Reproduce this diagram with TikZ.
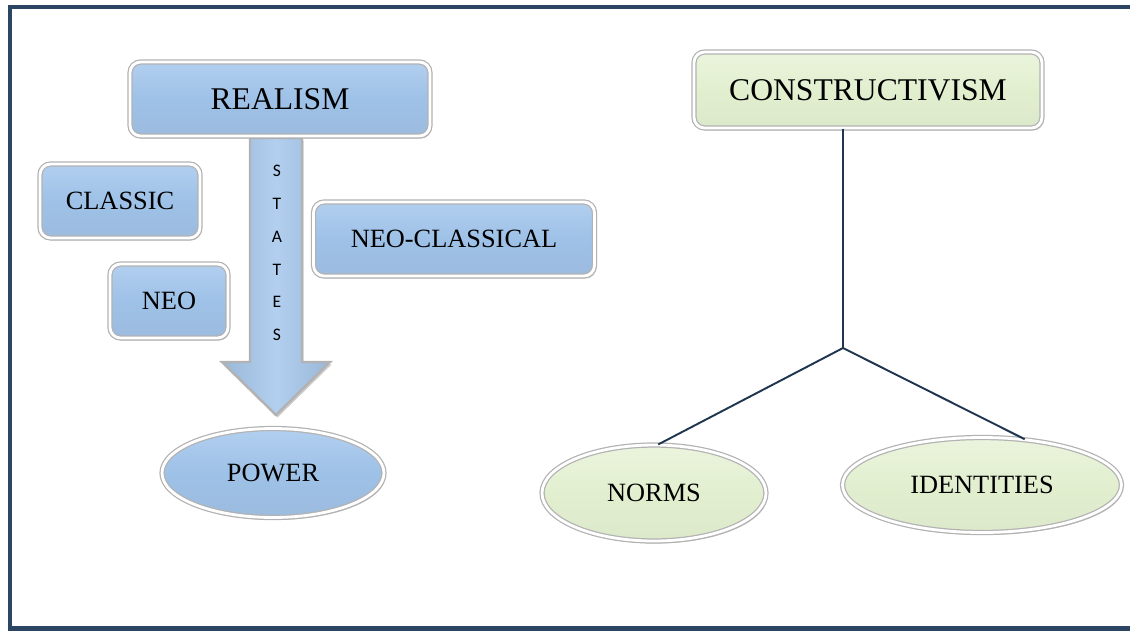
\documentclass[tikz,border=0pt]{standalone}
\usepackage{fontspec}
\setmainfont{Liberation Serif}
\newfontfamily\statesfont{Carlito}
\usetikzlibrary{calc,shapes.geometric,shadows}
\definecolor{FrameNavy}{HTML}{2C4563}
\definecolor{LinkNavy}{HTML}{1F3550}
\definecolor{RealBlue}{HTML}{9EC1E7}
\definecolor{RealBlueLight}{HTML}{B2CFEF}
\definecolor{ConsGreen}{HTML}{E2EFCF}
\definecolor{ConsGreenLight}{HTML}{EBF4DD}
\tikzset{
  bevel/.style={
    draw=gray!60,
    line width=0.7pt,
    double=white,
    double distance=1.6pt,
    drop shadow={shadow xshift=0.9pt,shadow yshift=-1.4pt,opacity=0.5}
  },
  realbox/.style={
    bevel,
    rectangle,
    rounded corners=6pt,
    top color=RealBlueLight,
    bottom color=RealBlue!92!gray,
    middle color=RealBlue,
    inner sep=0pt,
    font=\fontsize{15}{18}\selectfont
  },
  consbox/.style={
    bevel,
    rectangle,
    rounded corners=6pt,
    top color=ConsGreenLight,
    bottom color=ConsGreen!94!gray,
    middle color=ConsGreen,
    inner sep=0pt,
    font=\fontsize{18}{21}\selectfont
  },
  realoval/.style={
    bevel,
    ellipse,
    top color=RealBlueLight,
    bottom color=RealBlue!92!gray,
    middle color=RealBlue,
    inner sep=0pt,
    font=\fontsize{15}{18}\selectfont
  },
  consoval/.style={
    bevel,
    ellipse,
    top color=ConsGreenLight,
    bottom color=ConsGreen!94!gray,
    middle color=ConsGreen,
    inner sep=0pt,
    font=\fontsize{15}{18}\selectfont
  },
  stemarrow/.style={
    draw=gray!60,
    line width=1.4pt,
    line join=miter,
    left color=RealBlue!85!gray,
    right color=RealBlue!85!gray,
    middle color=RealBlueLight,
    drop shadow={shadow xshift=0.9pt,shadow yshift=-1.4pt,opacity=0.4}
  },
  branch/.style={draw=LinkNavy, line width=1.1pt}
}

\begin{document}
\begin{tikzpicture}[x=0.02cm,y=-0.02cm]
  \useasboundingbox (0,0) rectangle (1130,630);
  % frame, open to the right
  \draw[FrameNavy, line width=2.3pt] (1130,7) -- (10,7) -- (10,628.5) -- (1130,628.5);

  % realism side
  \coordinate (arrowtop) at (276,138);
  \coordinate (tip) at (276,415);
  \draw[stemarrow] (arrowtop) ++(-26,0) -- ++(0,224) -- ++(-28,0) -- (tip)
    -- ++(54,-53) -- ++(-28,0) -- ++(0,-224) -- cycle;
  \node[
    align=center,
    font=\statesfont\fontsize{10}{18.7}\selectfont
  ] (states) at (277,253) {S\\T\\A\\T\\E\\S};

  \node[
    realbox,
    minimum width=6.0cm,
    minimum height=1.48cm,
    font=\fontsize{18}{21}\selectfont
  ] (realism) at (280,99) {REALISM};
  \node[realbox, minimum width=3.2cm, minimum height=1.48cm] (classic) at (120,201) {CLASSIC};
  \node[realbox, minimum width=2.36cm, minimum height=1.48cm] (neo) at (169,301) {NEO};
  \node[realbox, minimum width=5.62cm, minimum height=1.48cm] (neoclassical) at (454,239) {NEO-CLASSICAL};
  \node[realoval, minimum width=4.44cm, minimum height=1.78cm] (power) at (273,473) {POWER};

  % constructivism side
  \node[
    consbox,
    minimum width=6.96cm,
    minimum height=1.52cm
  ] (constructivism) at (868,90) {CONSTRUCTIVISM};
  \node[consoval, minimum width=4.48cm, minimum height=1.92cm] (norms) at (654,493) {NORMS};
  \node[consoval, minimum width=5.58cm, minimum height=1.9cm] (identities) at (982,485) {IDENTITIES};

  \coordinate (fork) at (843,348);
  \draw[branch] (fork |- constructivism.south) -- (fork);
  \draw[branch] (fork) -- (norms.85);
  \draw[branch] (fork) -- (identities.47);
\end{tikzpicture}
\end{document}
